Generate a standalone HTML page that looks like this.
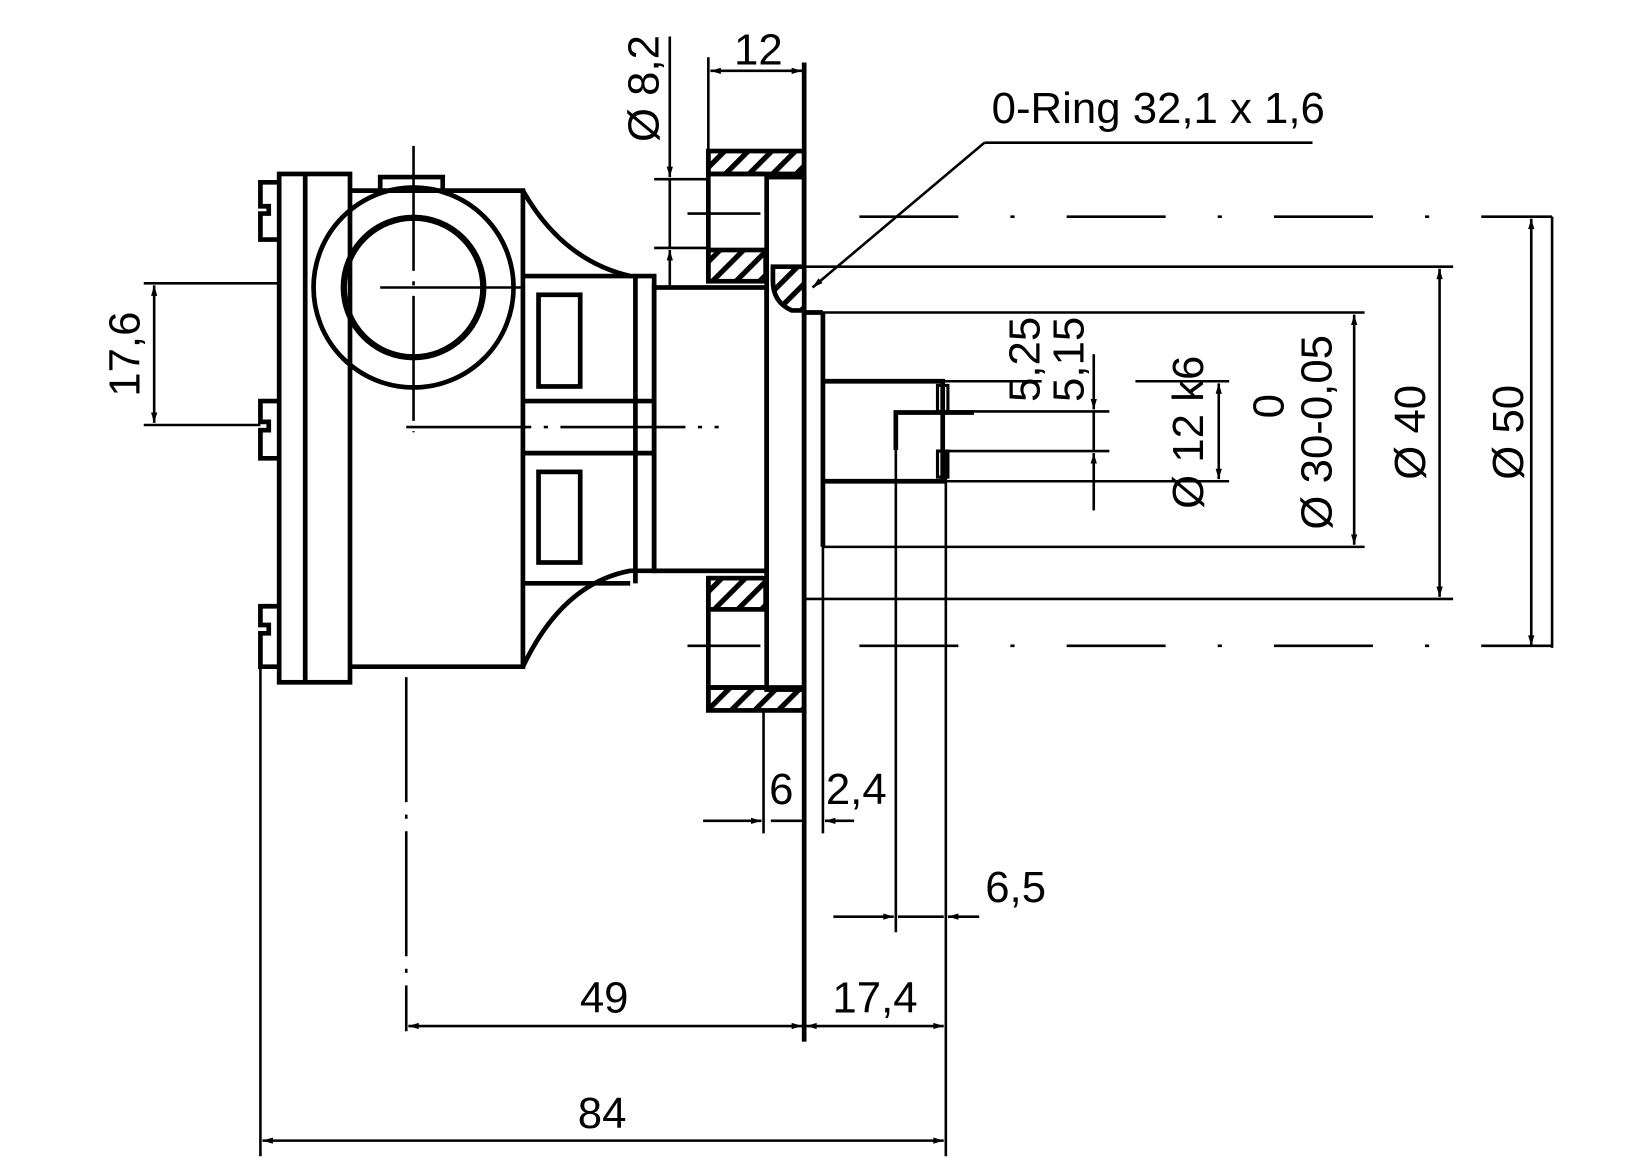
<!DOCTYPE html>
<html><head><meta charset="utf-8"><style>
html,body{margin:0;padding:0;background:#fff;}
svg{display:block;}
text{font-family:"Liberation Sans",Arial,sans-serif;font-size:42px;fill:#000;}
</style></head><body>
<svg width="1625" height="1170" viewBox="0 0 1560 1123.2" xmlns="http://www.w3.org/2000/svg">
<defs>
<pattern id="h" width="16" height="16" patternUnits="userSpaceOnUse" patternTransform="rotate(45)">
<rect width="16" height="16" fill="#fff"/><rect x="0" y="0" width="5" height="16" fill="#000"/></pattern>
<marker id="a" viewBox="0 0 10 10" refX="10" refY="5" markerWidth="12" markerHeight="10" markerUnits="userSpaceOnUse" orient="auto-start-reverse"><path d="M0,2 L10,5 L0,8z" fill="#000"/></marker>
</defs>
<g fill="none" stroke="#000" stroke-width="4.5">
<path d="M268,175 H250 V198 H258 V205 H250 V230 H268"/>
<path d="M268,385 H250 V405 H258 V413 H250 V440 H268"/>
<path d="M268,582 H250 V600 H258 V608 H250 V640 H268"/>
<rect x="268" y="167" width="68" height="488"/>
<line x1="293" y1="167" x2="293" y2="655"/>
<path d="M336,183 H502 V640 H336"/>
<path d="M365,183 V170 H425 V183"/>
<circle cx="397" cy="276" r="96"/>
<circle cx="397" cy="276" r="67" stroke-width="6"/>
<path d="M502,183 Q540,250 605,265 H628 V548 H605 Q540,560 502,640"/>
<line x1="502" y1="265" x2="605" y2="265"/><line x1="502" y1="560" x2="605" y2="560"/>
<line x1="502" y1="385" x2="628" y2="385"/><line x1="502" y1="435" x2="628" y2="435"/>
<rect x="517" y="283" width="40" height="88"/>
<rect x="517" y="453" width="40" height="87"/>
<line x1="610" y1="265" x2="610" y2="560"/>
<rect x="628" y="276" width="108" height="272"/>
<rect x="680" y="145" width="92" height="22" fill="url(#h)"/>
<rect x="680" y="240" width="55" height="30" fill="url(#h)"/>
<rect x="680" y="555" width="55" height="30" fill="url(#h)"/>
<rect x="680" y="660" width="92" height="22" fill="url(#h)"/>
<line x1="680" y1="145" x2="680" y2="270"/><line x1="680" y1="555" x2="680" y2="682"/>
<line x1="680" y1="167" x2="735" y2="167"/><line x1="680" y1="660" x2="735" y2="660"/>
<rect x="736" y="170" width="36" height="492"/>
<line x1="772" y1="60" x2="772" y2="1000"/>
<path d="M742,256 H772 V298 H760 Q742,290 742,270z" fill="url(#h)"/>
<line x1="790" y1="300" x2="790" y2="525"/>
<line x1="772" y1="300" x2="790" y2="300"/>
<path d="M790,366 H905 V462 H790"/>
<path d="M935,396 H860 V432"/>
<rect x="900" y="370" width="10" height="25" stroke-width="3"/>
<rect x="900" y="433" width="10" height="25" stroke-width="3"/>
</g>
<g fill="none" stroke="#000" stroke-width="2.5">
<line x1="397" y1="140" x2="397" y2="415" stroke-dasharray="120 10 4 10"/>
<line x1="365" y1="276" x2="500" y2="276"/>
<line x1="390" y1="410" x2="690" y2="410" stroke-dasharray="120 12 4 12"/>
<line x1="390" y1="650" x2="390" y2="990" stroke-dasharray="120 12 4 12"/>
<line x1="825" y1="208" x2="1490" y2="208" stroke-dasharray="95 50 4 50"/>
<line x1="825" y1="620" x2="1490" y2="620" stroke-dasharray="95 50 4 50"/>
<line x1="660" y1="205" x2="730" y2="205"/><line x1="660" y1="620" x2="730" y2="620"/>
<line x1="138" y1="272" x2="268" y2="272"/><line x1="138" y1="408" x2="250" y2="408"/>
<line x1="250" y1="640" x2="250" y2="1110"/>
<line x1="908" y1="432" x2="908" y2="1110"/>
<line x1="860" y1="432" x2="860" y2="895"/>
<line x1="733" y1="680" x2="733" y2="800"/>
<line x1="790" y1="525" x2="790" y2="800"/>
<line x1="680" y1="55" x2="680" y2="145"/>
<line x1="628" y1="172" x2="680" y2="172"/><line x1="628" y1="238" x2="680" y2="238"/>
<line x1="772" y1="256" x2="1395" y2="256"/><line x1="772" y1="575" x2="1395" y2="575"/>
<line x1="790" y1="300" x2="1310" y2="300"/><line x1="790" y1="525" x2="1310" y2="525"/>
<line x1="905" y1="366" x2="1000" y2="366"/><line x1="1090" y1="366" x2="1180" y2="366"/>
<line x1="905" y1="462" x2="1180" y2="462"/>
<line x1="910" y1="395" x2="1065" y2="395"/><line x1="910" y1="433" x2="1065" y2="433"/>
<line x1="1490" y1="208" x2="1490" y2="622"/>
<line x1="252" y1="1095" x2="906" y2="1095" marker-start="url(#a)" marker-end="url(#a)"/>
<line x1="392" y1="985" x2="770" y2="985" marker-start="url(#a)" marker-end="url(#a)"/>
<line x1="774" y1="985" x2="906" y2="985" marker-start="url(#a)" marker-end="url(#a)"/>
<line x1="675" y1="788" x2="731" y2="788" marker-end="url(#a)"/>
<line x1="740" y1="788" x2="770" y2="788"/>
<line x1="820" y1="788" x2="792" y2="788" marker-end="url(#a)"/>
<line x1="800" y1="880" x2="858" y2="880" marker-end="url(#a)"/>
<line x1="940" y1="880" x2="910" y2="880" marker-end="url(#a)"/>
<line x1="862" y1="880" x2="906" y2="880"/>
<line x1="148" y1="274" x2="148" y2="406" marker-start="url(#a)" marker-end="url(#a)"/>
<line x1="643" y1="35" x2="643" y2="170" marker-end="url(#a)"/>
<line x1="643" y1="275" x2="643" y2="240" marker-end="url(#a)"/>
<line x1="643" y1="172" x2="643" y2="238"/>
<line x1="682" y1="68" x2="770" y2="68" marker-start="url(#a)" marker-end="url(#a)"/>
<line x1="1470" y1="210" x2="1470" y2="620" marker-start="url(#a)" marker-end="url(#a)"/>
<line x1="1382" y1="258" x2="1382" y2="573" marker-start="url(#a)" marker-end="url(#a)"/>
<line x1="1300" y1="302" x2="1300" y2="523" marker-start="url(#a)" marker-end="url(#a)"/>
<line x1="1170" y1="368" x2="1170" y2="460" marker-start="url(#a)" marker-end="url(#a)"/>
<line x1="1050" y1="340" x2="1050" y2="393" marker-end="url(#a)"/>
<line x1="1050" y1="490" x2="1050" y2="435" marker-end="url(#a)"/>
<line x1="1050" y1="395" x2="1050" y2="433"/>
<line x1="1260" y1="137" x2="945" y2="137"/>
<line x1="945" y1="137" x2="780" y2="276" marker-end="url(#a)"/>
</g>
<text x="578" y="1083" text-anchor="middle">84</text>
<text x="580" y="972" text-anchor="middle">49</text>
<text x="840" y="972" text-anchor="middle">17,4</text>
<text x="750" y="772" text-anchor="middle">6</text>
<text x="822" y="772" text-anchor="middle">2,4</text>
<text x="975" y="866" text-anchor="middle">6,5</text>
<text x="728" y="62" text-anchor="middle">12</text>
<text x="952" y="118">0-Ring 32,1 x 1,6</text>
<text transform="translate(134,340) rotate(-90)" text-anchor="middle">17,6</text>
<text transform="translate(632,85) rotate(-90)" text-anchor="middle">Ø 8,2</text>
<text transform="translate(998,345) rotate(-90)" text-anchor="middle">5,25</text>
<text transform="translate(1040,345) rotate(-90)" text-anchor="middle">5,15</text>
<text transform="translate(1155,415) rotate(-90)" text-anchor="middle">Ø 12 k6</text>
<text transform="translate(1232,390) rotate(-90)" text-anchor="middle">0</text>
<text transform="translate(1278,415) rotate(-90)" text-anchor="middle">Ø 30-0,05</text>
<text transform="translate(1368,415) rotate(-90)" text-anchor="middle">Ø 40</text>
<text transform="translate(1462,415) rotate(-90)" text-anchor="middle">Ø 50</text>
</svg>
</body></html>
